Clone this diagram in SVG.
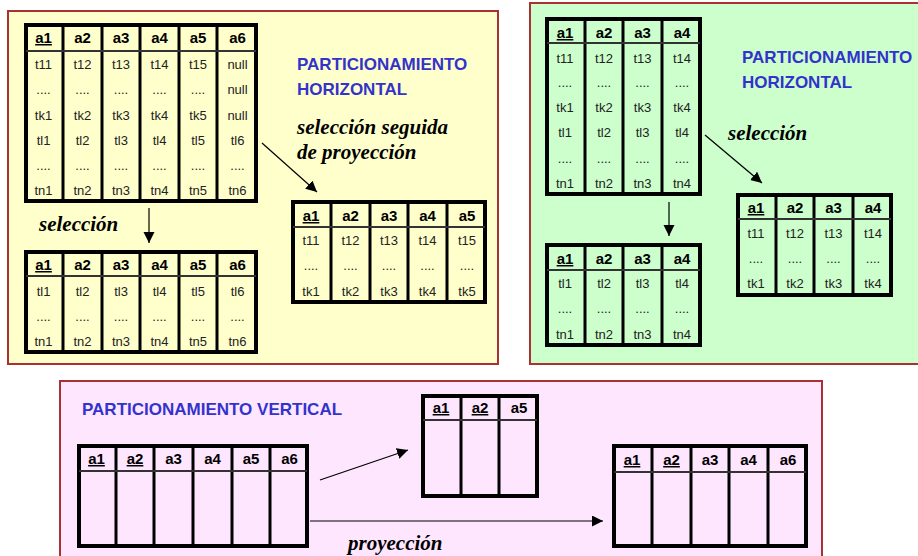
<svg xmlns="http://www.w3.org/2000/svg" width="918" height="556" viewBox="0 0 918 556">
<style>
.panel{stroke:#a83232;stroke-width:2}
.tb{fill:none;stroke:#000;stroke-width:4}
.col{stroke:#000;stroke-width:3}
.hl{stroke:#333;stroke-width:2}
.h{font-family:"Liberation Sans",Arial,sans-serif;font-weight:bold;font-size:15px;fill:#000;text-anchor:middle}
.k{text-decoration:underline}
.c{font-family:"Liberation Sans",Arial,sans-serif;font-size:13px;fill:#222;text-anchor:middle}
.title{font-family:"Liberation Sans",Arial,sans-serif;font-weight:bold;font-size:17px;fill:#3333cc}
.op{font-family:"Liberation Serif","Times New Roman",serif;font-weight:bold;font-style:italic;font-size:21px;fill:#000}
.ar{stroke:#000;stroke-width:1.2;fill:none;marker-end:url(#ah)}
</style>
<defs>
<marker id="ah" markerUnits="userSpaceOnUse" markerWidth="12" markerHeight="12" refX="11" refY="5.5" orient="auto">
<path d="M0,0 L11,5.5 L0,11 Z" fill="#000"/>
</marker>
</defs>
<rect width="918" height="556" fill="#fff"/>
<g id="panel-h1"><rect class="panel" x="8" y="11" width="490" height="353" fill="#ffffcc"/>
<text class="title" x="297" y="70">PARTICIONAMIENTO</text>
<text class="title" x="297" y="95">HORIZONTAL</text>
<text class="op" x="297" y="134">selección seguida</text>
<text class="op" x="297" y="159">de proyección</text>
<text class="op" x="39" y="231">selección</text>
</g>
<g id="panel-h2"><rect class="panel" x="530" y="3" width="395" height="361" fill="#ccffcc"/>
<text class="title" x="742" y="63">PARTICIONAMIENTO</text>
<text class="title" x="742" y="88">HORIZONTAL</text>
<text class="op" x="728" y="140">selección</text>
</g>
<g id="panel-v"><rect class="panel" x="60" y="381" width="762" height="190" fill="#ffe6ff"/>
<text class="title" x="82" y="415">PARTICIONAMIENTO VERTICAL</text>
<text class="op" x="348" y="550">proyección</text>
</g>

<g id="t1">
<rect class="tb" x="26" y="25" width="230" height="176"/>
<path class="col" d="M63,25V201M102,25V201M140,25V201M179,25V201M217,25V201"/>
<path class="hl" d="M26,51H256"/>
<text class="h" y="43"><tspan class="k" x="43.5">a1</tspan><tspan x="82.5">a2</tspan><tspan x="121">a3</tspan><tspan x="159.5">a4</tspan><tspan x="198">a5</tspan><tspan x="237.5">a6</tspan></text>
<text class="c" y="69"><tspan x="43.5">t11</tspan><tspan x="82.5">t12</tspan><tspan x="121">t13</tspan><tspan x="159.5">t14</tspan><tspan x="198">t15</tspan><tspan x="237.5">null</tspan></text>
<text class="c" y="94"><tspan x="43.5">....</tspan><tspan x="82.5">....</tspan><tspan x="121">....</tspan><tspan x="159.5">....</tspan><tspan x="198">....</tspan><tspan x="237.5">null</tspan></text>
<text class="c" y="120"><tspan x="43.5">tk1</tspan><tspan x="82.5">tk2</tspan><tspan x="121">tk3</tspan><tspan x="159.5">tk4</tspan><tspan x="198">tk5</tspan><tspan x="237.5">null</tspan></text>
<text class="c" y="145"><tspan x="43.5">tl1</tspan><tspan x="82.5">tl2</tspan><tspan x="121">tl3</tspan><tspan x="159.5">tl4</tspan><tspan x="198">tl5</tspan><tspan x="237.5">tl6</tspan></text>
<text class="c" y="170"><tspan x="43.5">....</tspan><tspan x="82.5">....</tspan><tspan x="121">....</tspan><tspan x="159.5">....</tspan><tspan x="198">....</tspan><tspan x="237.5">....</tspan></text>
<text class="c" y="195"><tspan x="43.5">tn1</tspan><tspan x="82.5">tn2</tspan><tspan x="121">tn3</tspan><tspan x="159.5">tn4</tspan><tspan x="198">tn5</tspan><tspan x="237.5">tn6</tspan></text>
</g>

<g id="t2">
<rect class="tb" x="26" y="252" width="230" height="100"/>
<path class="col" d="M63,252V352M102,252V352M140,252V352M179,252V352M217,252V352"/>
<path class="hl" d="M26,276H256"/>
<text class="h" y="270"><tspan class="k" x="43.5">a1</tspan><tspan x="82.5">a2</tspan><tspan x="121">a3</tspan><tspan x="159.5">a4</tspan><tspan x="198">a5</tspan><tspan x="237.5">a6</tspan></text>
<text class="c" y="296"><tspan x="43.5">tl1</tspan><tspan x="82.5">tl2</tspan><tspan x="121">tl3</tspan><tspan x="159.5">tl4</tspan><tspan x="198">tl5</tspan><tspan x="237.5">tl6</tspan></text>
<text class="c" y="321"><tspan x="43.5">....</tspan><tspan x="82.5">....</tspan><tspan x="121">....</tspan><tspan x="159.5">....</tspan><tspan x="198">....</tspan><tspan x="237.5">....</tspan></text>
<text class="c" y="346"><tspan x="43.5">tn1</tspan><tspan x="82.5">tn2</tspan><tspan x="121">tn3</tspan><tspan x="159.5">tn4</tspan><tspan x="198">tn5</tspan><tspan x="237.5">tn6</tspan></text>
</g>

<g id="t3">
<rect class="tb" x="293" y="202" width="192" height="100"/>
<path class="col" d="M331,202V302M370,202V302M408,202V302M447,202V302"/>
<path class="hl" d="M293,227H485"/>
<text class="h" y="221"><tspan class="k" x="311">a1</tspan><tspan x="350.5">a2</tspan><tspan x="389">a3</tspan><tspan x="427.5">a4</tspan><tspan x="467">a5</tspan></text>
<text class="c" y="245"><tspan x="311">t11</tspan><tspan x="350.5">t12</tspan><tspan x="389">t13</tspan><tspan x="427.5">t14</tspan><tspan x="467">t15</tspan></text>
<text class="c" y="270"><tspan x="311">....</tspan><tspan x="350.5">....</tspan><tspan x="389">....</tspan><tspan x="427.5">....</tspan><tspan x="467">....</tspan></text>
<text class="c" y="296"><tspan x="311">tk1</tspan><tspan x="350.5">tk2</tspan><tspan x="389">tk3</tspan><tspan x="427.5">tk4</tspan><tspan x="467">tk5</tspan></text>
</g>

<g id="t4">
<rect class="tb" x="547" y="19" width="153" height="175"/>
<path class="col" d="M585,19V194M623,19V194M662,19V194"/>
<path class="hl" d="M547,43H700"/>
<text class="h" y="38"><tspan class="k" x="565">a1</tspan><tspan x="604">a2</tspan><tspan x="642.5">a3</tspan><tspan x="682">a4</tspan></text>
<text class="c" y="63"><tspan x="565">t11</tspan><tspan x="604">t12</tspan><tspan x="642.5">t13</tspan><tspan x="682">t14</tspan></text>
<text class="c" y="87"><tspan x="565">....</tspan><tspan x="604">....</tspan><tspan x="642.5">....</tspan><tspan x="682">....</tspan></text>
<text class="c" y="112"><tspan x="565">tk1</tspan><tspan x="604">tk2</tspan><tspan x="642.5">tk3</tspan><tspan x="682">tk4</tspan></text>
<text class="c" y="137"><tspan x="565">tl1</tspan><tspan x="604">tl2</tspan><tspan x="642.5">tl3</tspan><tspan x="682">tl4</tspan></text>
<text class="c" y="163"><tspan x="565">....</tspan><tspan x="604">....</tspan><tspan x="642.5">....</tspan><tspan x="682">....</tspan></text>
<text class="c" y="188"><tspan x="565">tn1</tspan><tspan x="604">tn2</tspan><tspan x="642.5">tn3</tspan><tspan x="682">tn4</tspan></text>
</g>

<g id="t5">
<rect class="tb" x="738" y="195" width="153" height="100"/>
<path class="col" d="M776,195V295M814,195V295M853,195V295"/>
<path class="hl" d="M738,219H891"/>
<text class="h" y="213"><tspan class="k" x="756">a1</tspan><tspan x="795">a2</tspan><tspan x="833.5">a3</tspan><tspan x="873">a4</tspan></text>
<text class="c" y="238"><tspan x="756">t11</tspan><tspan x="795">t12</tspan><tspan x="833.5">t13</tspan><tspan x="873">t14</tspan></text>
<text class="c" y="263"><tspan x="756">....</tspan><tspan x="795">....</tspan><tspan x="833.5">....</tspan><tspan x="873">....</tspan></text>
<text class="c" y="288"><tspan x="756">tk1</tspan><tspan x="795">tk2</tspan><tspan x="833.5">tk3</tspan><tspan x="873">tk4</tspan></text>
</g>

<g id="t6">
<rect class="tb" x="547" y="245" width="153" height="100"/>
<path class="col" d="M585,245V345M623,245V345M662,245V345"/>
<path class="hl" d="M547,270H700"/>
<text class="h" y="264"><tspan class="k" x="565">a1</tspan><tspan x="604">a2</tspan><tspan x="642.5">a3</tspan><tspan x="682">a4</tspan></text>
<text class="c" y="288"><tspan x="565">tl1</tspan><tspan x="604">tl2</tspan><tspan x="642.5">tl3</tspan><tspan x="682">tl4</tspan></text>
<text class="c" y="313"><tspan x="565">....</tspan><tspan x="604">....</tspan><tspan x="642.5">....</tspan><tspan x="682">....</tspan></text>
<text class="c" y="339"><tspan x="565">tn1</tspan><tspan x="604">tn2</tspan><tspan x="642.5">tn3</tspan><tspan x="682">tn4</tspan></text>
</g>

<g id="t7">
<rect class="tb" x="79" y="446" width="228" height="100"/>
<path class="col" d="M116,446V546M154,446V546M193,446V546M232,446V546M270,446V546"/>
<path class="hl" d="M79,471H307"/>
<text class="h" y="464"><tspan class="k" x="96.5">a1</tspan><tspan class="k" x="135">a2</tspan><tspan x="173.5">a3</tspan><tspan x="212.5">a4</tspan><tspan x="251">a5</tspan><tspan x="289.5">a6</tspan></text>
</g>

<g id="t8">
<rect class="tb" x="423" y="396" width="114" height="100"/>
<path class="col" d="M461,396V496M499,396V496"/>
<path class="hl" d="M423,420H537"/>
<text class="h" y="413"><tspan class="k" x="441">a1</tspan><tspan class="k" x="480">a2</tspan><tspan x="519">a5</tspan></text>
</g>

<g id="t9">
<rect class="tb" x="614" y="446" width="192" height="100"/>
<path class="col" d="M652,446V546M691,446V546M729,446V546M768,446V546"/>
<path class="hl" d="M614,472H806"/>
<text class="h" y="465"><tspan class="k" x="632">a1</tspan><tspan class="k" x="671.5">a2</tspan><tspan x="710">a3</tspan><tspan x="748.5">a4</tspan><tspan x="788">a6</tspan></text>
</g>

<g id="connectors">
<line class="ar" x1="149" y1="208" x2="149" y2="243"/>
<line class="ar" x1="262" y1="143" x2="317" y2="192"/>
<line class="ar" x1="669" y1="202" x2="669" y2="236"/>
<line class="ar" x1="705" y1="135" x2="762" y2="183"/>
<line class="ar" x1="320" y1="480" x2="408" y2="450"/>
<line class="ar" x1="310" y1="521" x2="603" y2="521"/>
</g>
</svg>
